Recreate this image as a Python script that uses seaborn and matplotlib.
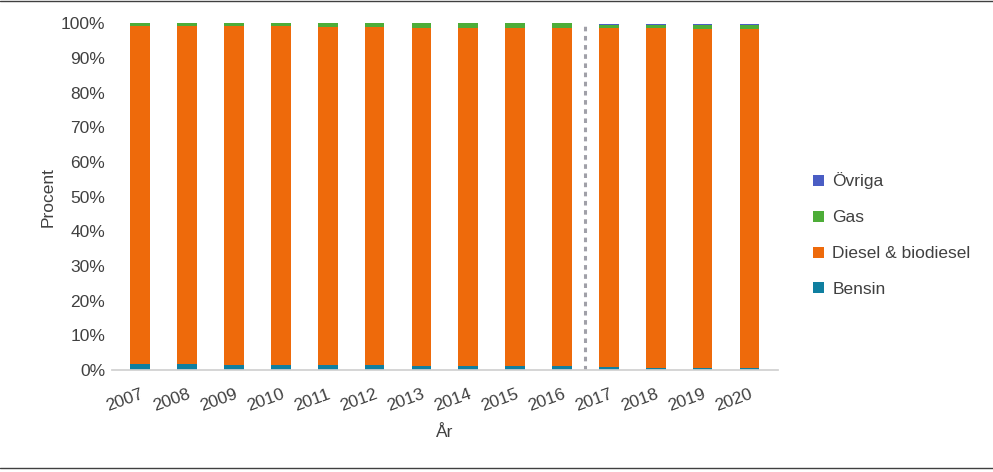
import matplotlib
matplotlib.use("Agg")
import matplotlib.pyplot as plt
import seaborn as sns
import numpy as np

years = [str(y) for y in range(2007, 2021)]
bensin = [1.7, 1.7, 1.5, 1.5, 1.5, 1.5, 1.2, 1.2, 1.2, 1.2, 0.9, 0.6, 0.6, 0.6]
diesel = [97.5, 97.5, 97.6, 97.6, 97.4, 97.3, 97.4, 97.3, 97.3, 97.3, 97.6, 97.9, 97.8, 97.8]
gas = [0.7, 0.7, 0.8, 0.8, 1.0, 1.1, 1.3, 1.4, 1.4, 1.4, 1.1, 1.0, 1.1, 1.1]
ovriga = [0.1, 0.1, 0.1, 0.1, 0.1, 0.1, 0.1, 0.1, 0.1, 0.1, 0.2, 0.2, 0.2, 0.2]

sns.set_theme(style="white")
plt.rcParams['font.family'] = ['Liberation Sans', 'DejaVu Sans']

fig = plt.figure(figsize=(9.93, 4.72), dpi=100)
ax = fig.add_axes([0.113, 0.216, 0.67, 0.735])

series = [("Bensin", bensin, "#0F7FA0"), ("Diesel & biodiesel", diesel, "#EE6A0B"),
          ("Gas", gas, "#4DAD38"), ("Övriga", ovriga, "#4A5DC4")]
bottom = np.zeros(len(years))
for name, vals, col in series:
    sns.barplot(x=years, y=vals, bottom=bottom, color=col, label=name, width=0.42,
                ax=ax, saturation=1, linewidth=0)
    bottom = bottom + np.array(vals)

ax.axvline(9.5, color="#A0A0A8", linestyle=(0, (1.5, 1.5)), linewidth=2.2)
ax.set_ylim(0, 100)
ax.set_xlim(-0.6, 13.6)
ax.set_yticks(range(0, 101, 10))
ax.set_yticklabels([f"{v}%" for v in range(0, 101, 10)], fontsize=12.5, color="#404040")
ax.set_xticks(range(len(years)))
ax.set_xticklabels(years, rotation=20, ha="right", rotation_mode="anchor", fontsize=12.5, color="#404040")
ax.tick_params(axis="x", length=0, pad=12)
ax.tick_params(axis="y", length=0, pad=5)
ax.set_ylabel("Procent", fontsize=12.5, color="#404040")
ax.set_xlabel("År", fontsize=12.5, color="#404040", labelpad=8)
for s in ["top", "right", "left"]:
    ax.spines[s].set_visible(False)
ax.spines["bottom"].set_color("#D0D0D0")

h, l = ax.get_legend_handles_labels()
ax.legend(h[::-1], l[::-1], loc="center left", bbox_to_anchor=(1.03, 0.39), frameon=False,
          fontsize=12.5, handlelength=0.6, handleheight=0.6, labelspacing=1.2,
          handletextpad=0.5, labelcolor="#404040")

fig.add_artist(plt.Line2D([0, 1], [0.998, 0.998], color="#404040", linewidth=1, transform=fig.transFigure))
fig.add_artist(plt.Line2D([0, 1], [0.008, 0.008], color="#404040", linewidth=1, transform=fig.transFigure))
fig.savefig("out.png", dpi=100)
